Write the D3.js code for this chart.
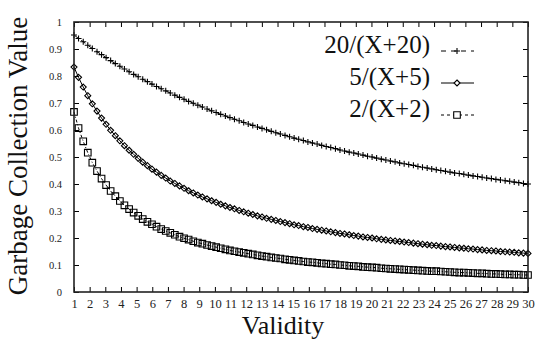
<!DOCTYPE html>
<html>
<head>
<meta charset="utf-8">
<script src="https://cdn.jsdelivr.net/npm/d3@7"></script>
<style>
  body { margin: 0; background: #fff; }
</style>
</head>
<body>
<div id="chart"></div>
<script>
// sample positions along the x axis (100 samples from 1 to 30)
const xValues = [
  1.00, 1.29, 1.59, 1.88, 2.17, 2.47, 2.76, 3.05, 3.34, 3.64,
  3.93, 4.22, 4.52, 4.81, 5.10, 5.39, 5.69, 5.98, 6.27, 6.57,
  6.86, 7.15, 7.44, 7.74, 8.03, 8.32, 8.62, 8.91, 9.20, 9.50,
  9.79, 10.08, 10.37, 10.67, 10.96, 11.25, 11.55, 11.84, 12.13, 12.42,
  12.72, 13.01, 13.30, 13.60, 13.89, 14.18, 14.48, 14.77, 15.06, 15.35,
  15.65, 15.94, 16.23, 16.53, 16.82, 17.11, 17.40, 17.70, 17.99, 18.28,
  18.58, 18.87, 19.16, 19.46, 19.75, 20.04, 20.33, 20.63, 20.92, 21.21,
  21.51, 21.80, 22.09, 22.38, 22.68, 22.97, 23.26, 23.56, 23.85, 24.14,
  24.43, 24.73, 25.02, 25.31, 25.61, 25.90, 26.19, 26.49, 26.78, 27.07,
  27.36, 27.66, 27.95, 28.24, 28.54, 28.83, 29.12, 29.41, 29.71, 30.00
];

// 20/(X+20)
const series20 = [
  0.952, 0.939, 0.927, 0.914, 0.902, 0.890, 0.879, 0.868, 0.857, 0.846,
  0.836, 0.826, 0.816, 0.806, 0.797, 0.788, 0.779, 0.770, 0.761, 0.753,
  0.745, 0.737, 0.729, 0.721, 0.714, 0.706, 0.699, 0.692, 0.685, 0.678,
  0.671, 0.665, 0.658, 0.652, 0.646, 0.640, 0.634, 0.628, 0.622, 0.617,
  0.611, 0.606, 0.601, 0.595, 0.590, 0.585, 0.580, 0.575, 0.570, 0.566,
  0.561, 0.556, 0.552, 0.548, 0.543, 0.539, 0.535, 0.531, 0.526, 0.522,
  0.518, 0.515, 0.511, 0.507, 0.503, 0.500, 0.496, 0.492, 0.489, 0.485,
  0.482, 0.478, 0.475, 0.472, 0.469, 0.465, 0.462, 0.459, 0.456, 0.453,
  0.450, 0.447, 0.444, 0.441, 0.439, 0.436, 0.433, 0.430, 0.428, 0.425,
  0.422, 0.420, 0.417, 0.415, 0.412, 0.410, 0.407, 0.405, 0.402, 0.400
];

// 5/(X+5)
const series5 = [
  0.833, 0.795, 0.759, 0.727, 0.697, 0.670, 0.644, 0.621, 0.599, 0.579,
  0.560, 0.542, 0.525, 0.510, 0.495, 0.481, 0.468, 0.455, 0.444, 0.432,
  0.422, 0.411, 0.402, 0.393, 0.384, 0.375, 0.367, 0.359, 0.352, 0.345,
  0.338, 0.332, 0.325, 0.319, 0.313, 0.308, 0.302, 0.297, 0.292, 0.287,
  0.282, 0.278, 0.273, 0.269, 0.265, 0.261, 0.257, 0.253, 0.249, 0.246,
  0.242, 0.239, 0.235, 0.232, 0.229, 0.226, 0.223, 0.220, 0.217, 0.215,
  0.212, 0.209, 0.207, 0.204, 0.202, 0.200, 0.197, 0.195, 0.193, 0.191,
  0.189, 0.187, 0.185, 0.183, 0.181, 0.179, 0.177, 0.175, 0.173, 0.172,
  0.170, 0.168, 0.167, 0.165, 0.163, 0.162, 0.160, 0.159, 0.157, 0.156,
  0.154, 0.153, 0.152, 0.150, 0.149, 0.148, 0.147, 0.145, 0.144, 0.143
];

// 2/(X+2)
const series2 = [
  0.667, 0.607, 0.558, 0.516, 0.479, 0.448, 0.420, 0.396, 0.374, 0.355,
  0.337, 0.321, 0.307, 0.294, 0.282, 0.270, 0.260, 0.251, 0.242, 0.233,
  0.226, 0.219, 0.212, 0.205, 0.199, 0.194, 0.188, 0.183, 0.179, 0.174,
  0.170, 0.166, 0.162, 0.158, 0.154, 0.151, 0.148, 0.145, 0.142, 0.139,
  0.136, 0.133, 0.131, 0.128, 0.126, 0.124, 0.121, 0.119, 0.117, 0.115,
  0.113, 0.111, 0.110, 0.108, 0.106, 0.105, 0.103, 0.102, 0.100, 0.099,
  0.097, 0.096, 0.095, 0.093, 0.092, 0.091, 0.090, 0.088, 0.087, 0.086,
  0.085, 0.084, 0.083, 0.082, 0.081, 0.080, 0.079, 0.078, 0.077, 0.077,
  0.076, 0.075, 0.074, 0.073, 0.072, 0.072, 0.071, 0.070, 0.069, 0.069,
  0.068, 0.067, 0.067, 0.066, 0.065, 0.065, 0.064, 0.064, 0.063, 0.063
];

const seriesNames = ['20/(X+20)', '5/(X+5)', '2/(X+2)'];
const xTicks = d3.range(1, 31);
const yTicks = [0, 0.1, 0.2, 0.3, 0.4, 0.5, 0.6, 0.7, 0.8, 0.9, 1];

const serifFont = 'Liberation Serif';

class FunctionPlot {
  constructor(_config, _data) {
    this.config = {
      parentElement: _config.parentElement,
      containerWidth: _config.containerWidth || 537,
      containerHeight: _config.containerHeight || 341,
      margin: _config.margin || { top: 22, right: 9, bottom: 49, left: 74 },
      tickSize: 5,
    };
    this.data = _data;
    this.initVis();
  }

  initVis() {
    let vis = this;

    vis.width = vis.config.containerWidth - vis.config.margin.left - vis.config.margin.right;
    vis.height = vis.config.containerHeight - vis.config.margin.top - vis.config.margin.bottom;

    vis.svg = d3.select(vis.config.parentElement)
      .append('svg')
      .attr('width', vis.config.containerWidth)
      .attr('height', vis.config.containerHeight)
      .attr('font-family', serifFont);

    vis.chart = vis.svg.append('g')
      .attr('transform', `translate(${vis.config.margin.left},${vis.config.margin.top})`);

    vis.xScale = d3.scaleLinear().domain([1, 30]).range([0, vis.width]);
    vis.yScale = d3.scaleLinear().domain([0, 1]).range([vis.height, 0]);

    // gnuplot style: ticks point inwards and are mirrored on the opposite side
    vis.xAxis = d3.axisBottom(vis.xScale).tickValues(xTicks)
      .tickSize(-vis.config.tickSize).tickSizeOuter(0).tickPadding(7);
    vis.xAxisTop = d3.axisTop(vis.xScale).tickValues(xTicks)
      .tickSize(-vis.config.tickSize).tickSizeOuter(0).tickFormat('');
    vis.yAxis = d3.axisLeft(vis.yScale).tickValues(yTicks)
      .tickSize(-vis.config.tickSize).tickSizeOuter(0).tickPadding(12)
      .tickFormat(d3.format('~g'));
    vis.yAxisRight = d3.axisRight(vis.yScale).tickValues(yTicks)
      .tickSize(-vis.config.tickSize).tickSizeOuter(0).tickFormat('');

    vis.symbols = {
      plus: 'M-3,0H3M0,-3V3',
      diamond: 'M0,-3L3,0L0,3L-3,0Z',
      square: 'M-3.3,-3.3H3.3V3.3H-3.3Z',
    };

    vis.renderVis();
  }

  renderVis() {
    let vis = this;

    const line = d3.line()
      .x((d) => vis.xScale(d.x))
      .y((d) => vis.yScale(d.y));

    vis.data.forEach((s) => {
      vis.chart.append('path')
        .datum(s.values)
        .attr('fill', 'none')
        .attr('stroke', '#000')
        .attr('stroke-width', 1)
        .attr('stroke-dasharray', s.dash)
        .attr('d', line);

      vis.chart.append('g')
        .selectAll('path')
        .data(s.values)
        .join('path')
        .attr('transform', (d) => `translate(${vis.xScale(d.x)},${vis.yScale(d.y)})`)
        .attr('d', vis.symbols[s.symbol])
        .attr('fill', 'none')
        .attr('stroke', '#000')
        .attr('stroke-width', 1.1);
    });

    const styleAxis = (g) => {
      g.attr('font-family', serifFont);
      g.select('.domain').remove();
      g.selectAll('.tick line').attr('stroke', '#000');
      g.selectAll('.tick text').attr('fill', '#222');
    };

    vis.chart.append('g')
      .attr('transform', `translate(0,${vis.height})`)
      .call(vis.xAxis).call(styleAxis)
      .attr('font-size', 12.5);
    vis.chart.append('g').call(vis.xAxisTop).call(styleAxis);
    vis.chart.append('g').call(vis.yAxis).call(styleAxis)
      .attr('font-size', 10.5);
    vis.chart.append('g')
      .attr('transform', `translate(${vis.width},0)`)
      .call(vis.yAxisRight).call(styleAxis);

    // plot border
    vis.chart.append('rect')
      .attr('width', vis.width)
      .attr('height', vis.height)
      .attr('fill', 'none')
      .attr('stroke', '#222')
      .attr('stroke-width', 1.6);

    // axis titles
    vis.svg.append('text')
      .attr('x', 283)
      .attr('y', 334)
      .attr('text-anchor', 'middle')
      .attr('font-size', 26)
      .attr('fill', '#111')
      .text('Validity');

    vis.svg.append('text')
      .attr('transform', 'translate(27,156) rotate(-90)')
      .attr('text-anchor', 'middle')
      .attr('font-size', 27)
      .attr('fill', '#111')
      .text('Garbage Collection Value');

    // legend
    const legend = vis.svg.append('g').attr('transform', 'translate(430,53)');
    const rows = legend.selectAll('g')
      .data(vis.data)
      .join('g')
      .attr('transform', (d, i) => `translate(0,${i * 32})`);

    rows.append('text')
      .attr('text-anchor', 'end')
      .attr('font-size', 25)
      .attr('fill', '#111')
      .text((d) => d.name);

    rows.append('line')
      .attr('x1', 11).attr('x2', 44)
      .attr('y1', -2).attr('y2', -2)
      .attr('stroke', '#000')
      .attr('stroke-width', 1)
      .attr('stroke-dasharray', (d) => d.legendDash);

    rows.append('path')
      .attr('transform', 'translate(27,-2)')
      .attr('d', (d) => vis.symbols[d.symbol])
      .attr('fill', '#fff')
      .attr('stroke', '#000')
      .attr('stroke-width', 1.1);
  }
}

const toPoints = (ys) => ys.map((y, i) => ({ x: xValues[i], y: y }));

const plotData = [
  { name: seriesNames[0], values: toPoints(series20), symbol: 'plus', dash: '5,4', legendDash: '5,5' },
  { name: seriesNames[1], values: toPoints(series5), symbol: 'diamond', dash: null, legendDash: null },
  { name: seriesNames[2], values: toPoints(series2), symbol: 'square', dash: '3,2,1,2', legendDash: '3,3' },
];

new FunctionPlot({ parentElement: '#chart' }, plotData);
</script>
</body>
</html>
